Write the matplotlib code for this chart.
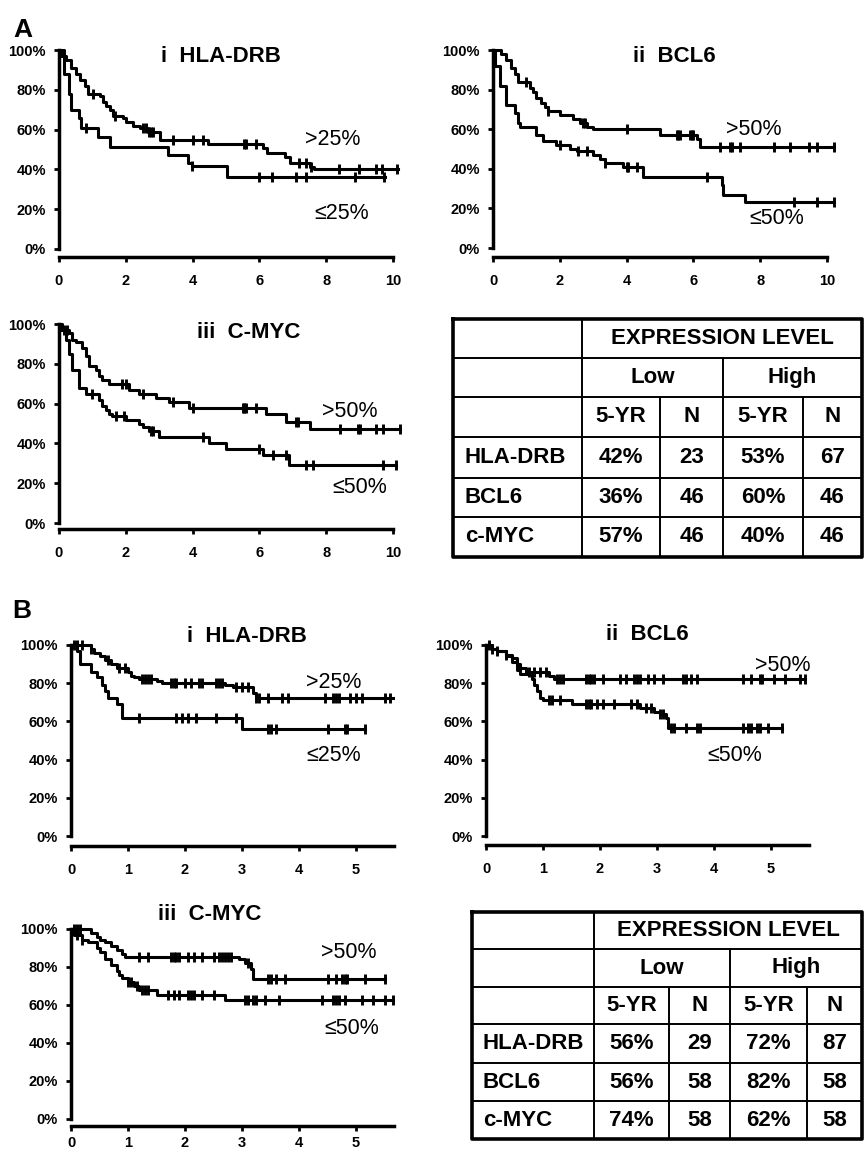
import numpy as np
import matplotlib
matplotlib.use('Agg')
import matplotlib.pyplot as plt

plt.rcParams['font.family'] = ['Liberation Sans', 'DejaVu Sans']

W, H = 865, 1153

# ---------------- panel A : survival steps (years, %) ----------------
# i HLA-DRB
a1_hi_t = [0, 0.07, 0.2, 0.37, 0.52, 0.62, 0.77, 0.87, 1.22, 1.32, 1.42, 1.52, 1.62, 1.92,
           2.02, 2.22, 2.42, 2.67, 3.02, 4.47, 6.12, 6.22, 6.77, 6.92, 7.52, 7.62]
a1_hi_s = [100, 97, 95, 91, 88, 85, 82, 78, 77, 74, 72, 70, 67, 66, 64, 62, 61, 59, 55, 53,
           51, 48, 46, 43, 41, 40]
a1_hi_cens = [1.02, 1.67, 2.5, 2.6, 2.7, 2.75, 2.8, 3.4, 4.0, 4.3, 5.55, 5.6, 5.9, 7.2, 7.4,
              7.55, 8.38, 8.98, 9.48, 9.68, 10.12]
a1_hi_end = 10.15
a1_lo_t = [0, 0.15, 0.3, 0.35, 0.6, 0.67, 1.17, 1.52, 3.27, 3.87, 3.97, 5.02]
a1_lo_s = [100, 88, 78, 70, 66, 61, 56.5, 51.5, 47, 43, 41.5, 36]
a1_lo_cens = [0.82, 3.97, 6.0, 6.37, 7.1, 7.4, 8.87, 9.72]
a1_lo_end = 9.75

# ii BCL6
a2_hi_t = [0, 0.25, 0.4, 0.55, 0.65, 0.75, 1.1, 1.2, 1.3, 1.45, 1.55, 1.65, 2.0, 2.4, 2.6,
           2.8, 2.98, 5.0, 6.1, 6.2]
a2_hi_s = [100, 98, 95, 91, 88, 84, 81, 79, 76, 73, 71, 69, 67, 65, 63, 61, 60, 57, 55, 51]
a2_hi_cens = [1.0, 1.65, 2.7, 2.75, 4.0, 5.5, 5.55, 5.6, 5.9, 5.95, 6.0, 6.8, 7.1, 7.15,
              7.4, 8.4, 8.9, 9.45, 9.7, 10.2]
a2_hi_end = 10.2
a2_lo_t = [0, 0.05, 0.2, 0.4, 0.65, 0.75, 0.8, 1.3, 1.5, 1.9, 2.3, 2.5, 3.0, 3.2, 3.35, 3.9,
           4.5, 6.85, 6.9, 7.55]
a2_lo_s = [100, 92, 82, 72, 68, 63, 61, 57, 54, 52, 50, 49, 47, 45, 43, 41, 36, 32, 27, 23]
a2_lo_cens = [2.0, 2.55, 2.8, 3.35, 4.0, 4.05, 4.3, 6.4, 9.0, 9.7, 10.2]
a2_lo_end = 10.2

# iii C-MYC
a3_hi_t = [0, 0.1, 0.3, 0.4, 0.5, 0.7, 0.8, 0.9, 1.1, 1.2, 1.3, 1.5, 2.1, 2.4, 2.9, 3.3,
           3.9, 6.2, 6.8, 7.5]
a3_hi_s = [100, 97, 95.5, 92, 91, 88, 84, 79, 77, 74, 72, 70, 67, 65, 63, 61, 58, 55, 51, 47]
a3_hi_cens = [0.15, 0.25, 1.9, 2.0, 2.5, 3.4, 4.0, 5.5, 5.55, 5.6, 5.9, 7.1, 7.15, 8.4,
              8.95, 9.0, 9.5, 9.7, 10.2]
a3_hi_end = 10.2
a3_lo_t = [0, 0.05, 0.2, 0.3, 0.4, 0.6, 0.8, 1.2, 1.3, 1.4, 1.5, 1.6, 2.0, 2.4, 2.5, 2.7,
           3.0, 4.5, 5.0, 6.1, 6.9]
a3_lo_s = [100, 97, 92, 85, 77, 68, 65, 62, 59, 57, 55, 54, 52, 50, 48, 46, 43, 40, 37, 34, 29]
a3_lo_cens = [1.0, 1.7, 1.95, 2.75, 2.8, 4.3, 6.0, 6.4, 6.8, 7.4, 7.6, 9.7, 10.1]
a3_lo_end = 10.1

# ---------------- panel B ----------------
b1_hi_t = [0, 0.35, 0.4, 0.5, 0.6, 0.7, 0.8, 1.0, 1.05, 1.1, 1.2, 1.5, 1.6, 2.7, 2.85, 3.2, 3.25]
b1_hi_s = [100, 98, 96, 94, 92, 90, 88, 86, 84, 83, 82, 81, 80, 79, 78, 75, 72.5]
b1_hi_cens = [0.05, 0.1, 0.2, 0.35, 0.65, 0.85, 0.95, 1.25, 1.3, 1.35, 1.4, 1.75, 1.8, 1.85,
              2.0, 2.1, 2.25, 2.3, 2.55, 2.6, 2.65, 2.9, 3.0, 3.1, 3.25, 3.3, 3.45, 3.7, 3.8,
              4.45, 4.6, 4.65, 4.7, 4.9, 5.0, 5.1, 5.5, 5.6]
b1_hi_end = 5.65
b1_lo_t = [0, 0.1, 0.15, 0.35, 0.45, 0.55, 0.6, 0.65, 0.8, 0.9, 3.0]
b1_lo_s = [100, 97, 90, 86, 83, 79, 76, 72, 69, 62, 56]
b1_lo_cens = [1.2, 1.85, 1.95, 2.05, 2.2, 2.55, 2.9, 3.45, 3.5, 3.6, 4.5, 4.8, 4.85, 5.15]
b1_lo_end = 5.15

b2_hi_t = [0, 0.1, 0.2, 0.35, 0.45, 0.55, 0.6, 0.7, 1.1, 1.2]
b2_hi_s = [100, 98, 97, 95, 93, 90, 88, 86, 84, 82]
b2_hi_cens = [0.05, 0.1, 0.2, 0.35, 0.75, 0.85, 0.95, 1.05, 1.25, 1.3, 1.35, 1.75, 1.8, 1.85,
              1.9, 2.05, 2.35, 2.45, 2.6, 2.65, 2.7, 2.85, 2.95, 3.1, 3.45, 3.5, 3.6, 3.7,
              4.5, 4.65, 4.8, 4.85, 5.05, 5.25, 5.5, 5.6]
b2_hi_end = 5.6
b2_lo_t = [0, 0.1, 0.2, 0.35, 0.45, 0.55, 0.6, 0.8, 0.85, 0.9, 0.95, 1.0, 1.5, 2.7, 2.95,
           3.05, 3.15, 3.2]
b2_lo_s = [100, 98, 97, 94, 91, 87, 85, 82, 79, 76, 72, 71, 69, 67, 65, 64, 62, 56.5]
b2_lo_cens = [1.1, 1.15, 1.3, 1.75, 1.8, 1.85, 1.95, 2.05, 2.25, 2.55, 2.65, 2.8, 2.9, 3.05,
              3.1, 3.25, 3.3, 3.5, 3.7, 3.75, 4.5, 4.6, 4.65, 4.75, 4.8, 4.95, 5.2]
b2_lo_end = 5.2

b3_hi_t = [0, 0.35, 0.45, 0.5, 0.6, 0.7, 0.8, 0.9, 0.95, 2.95, 3.05, 3.15, 3.2]
b3_hi_s = [100, 98, 96, 94, 93, 91, 89, 87, 85.5, 84, 82, 79, 73.5]
b3_hi_cens = [0.05, 0.1, 0.15, 1.2, 1.35, 1.75, 1.8, 1.85, 1.9, 2.05, 2.15, 2.3, 2.5, 2.6,
              2.65, 2.7, 2.75, 2.8, 3.1, 3.45, 3.5, 3.6, 3.75, 4.5, 4.65, 4.75, 4.8, 4.85,
              5.15, 5.5]
b3_hi_end = 5.5
b3_lo_t = [0, 0.05, 0.2, 0.3, 0.45, 0.5, 0.6, 0.7, 0.8, 0.85, 0.9, 1.0, 1.1, 1.2, 1.5, 2.7]
b3_lo_s = [100, 97, 94, 93, 90, 88, 84, 81, 78, 76, 74, 72, 70, 68, 65.5, 62.5]
b3_lo_cens = [0.1, 0.2, 1.0, 1.05, 1.15, 1.25, 1.3, 1.35, 1.7, 1.8, 1.9, 2.05, 2.1, 2.15,
              2.3, 2.5, 3.05, 3.1, 3.2, 3.25, 3.4, 3.65, 4.4, 4.6, 4.65, 4.7, 4.8, 5.1, 5.3,
              5.5, 5.65]
b3_lo_end = 5.65

# ---------------- tables ----------------
row_names = ['HLA-DRB', 'BCL6', 'c-MYC']
a_low_5yr = ['42%', '36%', '57%']
a_low_n = [23, 46, 46]
a_high_5yr = ['53%', '60%', '40%']
a_high_n = [67, 46, 46]
b_low_5yr = ['56%', '56%', '74%']
b_low_n = [29, 58, 58]
b_high_5yr = ['72%', '82%', '62%']
b_high_n = [87, 58, 58]

y_ticks = [0, 20, 40, 60, 80, 100]


def px_axes(fig, left, right, top, bottom):
    return fig.add_axes([left / W, 1 - bottom / H, (right - left) / W, (bottom - top) / H])


def draw_curve(ax, t, s, cens, end):
    t = np.array(t, dtype=float)
    s = np.array(s, dtype=float)
    ax.step(np.append(t, end), np.append(s, s[-1]), where='post',
            color='black', lw=2.2, clip_on=False)
    # censor marks sit on the curve value at that time
    idx = np.searchsorted(t, cens, side='right') - 1
    ax.plot(cens, s[idx], ls='none', marker='|', ms=7.5, mew=2.1,
            color='black', clip_on=False)


def km_panel(fig, box, xlim, xaxis_end, xticks, offset, curves, labels, xpad=9):
    ax = px_axes(fig, *box)
    for c in curves:
        draw_curve(ax, *c)
    ax.set_xlim(0, xlim)
    ax.set_ylim(0, 100)
    ax.spines['top'].set_visible(False)
    ax.spines['right'].set_visible(False)
    ax.spines['left'].set_bounds(0, 100)
    ax.spines['bottom'].set_bounds(0, xaxis_end)
    ax.spines['bottom'].set_position(('outward', offset))
    for sp in ['left', 'bottom']:
        ax.spines[sp].set_linewidth(2.5)
    ax.set_yticks(y_ticks)
    ax.set_yticklabels([f'{v}%' for v in y_ticks])
    ax.set_xticks(xticks)
    ax.set_xticklabels([str(v) for v in xticks])
    ax.tick_params(direction='out', length=3.5, width=2, labelsize=10.5, pad=6)
    ax.tick_params(axis='x', pad=xpad)
    for lab in ax.get_xticklabels() + ax.get_yticklabels():
        lab.set_fontweight('bold')
    for txt, x, y in labels:
        ax.text(x, y, txt, fontsize=15.5, ha='center', va='center')
    return ax


def draw_table(ov, cols, rows, label_x, low_5yr, low_n, high_5yr, high_n):
    left, right = cols[0], cols[-1]
    top, bottom = rows[0], rows[-1]
    # inner lines
    for y in rows[1:-1]:
        ov.plot([left, right], [y, y], color='black', lw=1.4)
    ov.plot([cols[1], cols[1]], [top, bottom], color='black', lw=1.4)
    ov.plot([cols[3], cols[3]], [rows[1], bottom], color='black', lw=1.4)
    for x in (cols[2], cols[4]):
        ov.plot([x, x], [rows[2], bottom], color='black', lw=1.4)
    # outer border
    ov.plot([left, right, right, left, left], [top, top, bottom, bottom, top],
            color='black', lw=2.6)
    kw = dict(fontsize=16, fontweight='bold', va='center')
    mid = lambda a, b: (a + b) / 2
    ov.text(mid(cols[1], cols[5]), mid(rows[0], rows[1]), 'EXPRESSION LEVEL', ha='center', **kw)
    ov.text(mid(cols[1], cols[3]), mid(rows[1], rows[2]), 'Low', ha='center', **kw)
    ov.text(mid(cols[3], cols[5]), mid(rows[1], rows[2]), 'High', ha='center', **kw)
    for i, h in enumerate(['5-YR', 'N', '5-YR', 'N']):
        ov.text(mid(cols[i + 1], cols[i + 2]), mid(rows[2], rows[3]), h, ha='center', **kw)
    for r, name in enumerate(row_names):
        yc = mid(rows[r + 3], rows[r + 4])
        ov.text(label_x, yc, name, ha='left', **kw)
        vals = [low_5yr[r], str(low_n[r]), high_5yr[r], str(high_n[r])]
        for i, v in enumerate(vals):
            ov.text(mid(cols[i + 1], cols[i + 2]), yc, v, ha='center', **kw)


fig = plt.figure(figsize=(W / 100, H / 100), dpi=100)

# panel A (10 years on x)
pa = 33.4
km_panel(fig, (59, 59 + 10.3 * pa, 50, 249), 10.3, 10, [0, 2, 4, 6, 8, 10], 5.8,
         [(a1_hi_t, a1_hi_s, a1_hi_cens, a1_hi_end), (a1_lo_t, a1_lo_s, a1_lo_cens, a1_lo_end)],
         [('>25%', 8.2, 55), ('\u226425%', 8.45, 18)])
km_panel(fig, (493, 493 + 10.3 * pa, 50, 248), 10.3, 10, [0, 2, 4, 6, 8, 10], 6.5,
         [(a2_hi_t, a2_hi_s, a2_hi_cens, a2_hi_end), (a2_lo_t, a2_lo_s, a2_lo_cens, a2_lo_end)],
         [('>50%', 7.8, 60), ('\u226450%', 8.5, 15)])
km_panel(fig, (59, 59 + 10.3 * pa, 324, 523), 10.3, 10, [0, 2, 4, 6, 8, 10], 4.3,
         [(a3_hi_t, a3_hi_s, a3_hi_cens, a3_hi_end), (a3_lo_t, a3_lo_s, a3_lo_cens, a3_lo_end)],
         [('>50%', 8.7, 56), ('\u226450%', 9.0, 18)])

# panel B (about 5.7 years on x)
pb = 57.0
km_panel(fig, (71, 71 + 5.7 * pb, 645, 836), 5.7, 5.67, [0, 1, 2, 3, 4, 5], 7.2,
         [(b1_hi_t, b1_hi_s, b1_hi_cens, b1_hi_end), (b1_lo_t, b1_lo_s, b1_lo_cens, b1_lo_end)],
         [('>25%', 4.6, 80.6), ('\u226425%', 4.6, 42)])
km_panel(fig, (486, 486 + 5.7 * pb, 645, 836), 5.7, 5.67, [0, 1, 2, 3, 4, 5], 6.5,
         [(b2_hi_t, b2_hi_s, b2_hi_cens, b2_hi_end), (b2_lo_t, b2_lo_s, b2_lo_cens, b2_lo_end)],
         [('>50%', 5.2, 89.5), ('\u226450%', 4.37, 42)])
km_panel(fig, (71, 71 + 5.7 * pb, 929, 1119), 5.7, 5.67, [0, 1, 2, 3, 4, 5], 5.0,
         [(b3_hi_t, b3_hi_s, b3_hi_cens, b3_hi_end), (b3_lo_t, b3_lo_s, b3_lo_cens, b3_lo_end)],
         [('>50%', 4.88, 87.4), ('\u226450%', 4.93, 47.6)], xpad=4)

# overlay in pixel coordinates for letters, titles and tables
ov = fig.add_axes([0, 0, 1, 1])
ov.set_xlim(0, W)
ov.set_ylim(H, 0)
ov.axis('off')
ov.patch.set_visible(False)

ov.text(23, 30, 'A', fontsize=19, fontweight='bold', ha='center', va='center')
ov.text(22, 611, 'B', fontsize=19, fontweight='bold', ha='center', va='center')

titles = [('i  HLA-DRB', 221, 57), ('ii  BCL6', 674, 57), ('iii  C-MYC', 249, 332),
          ('i  HLA-DRB', 247, 637), ('ii  BCL6', 647, 635), ('iii  C-MYC', 210, 915)]
for txt, x, y in titles:
    ov.text(x, y, txt, fontsize=16, fontweight='bold', ha='center', va='center')

draw_table(ov, [453, 582, 660, 723, 803, 862], [319, 358, 397, 437, 478, 517, 557], 465,
           a_low_5yr, a_low_n, a_high_5yr, a_high_n)
draw_table(ov, [472, 594, 669, 730, 807, 862], [912, 949, 987, 1024, 1063, 1101, 1139], 483,
           b_low_5yr, b_low_n, b_high_5yr, b_high_n)

fig.savefig('out.png', dpi=100)
